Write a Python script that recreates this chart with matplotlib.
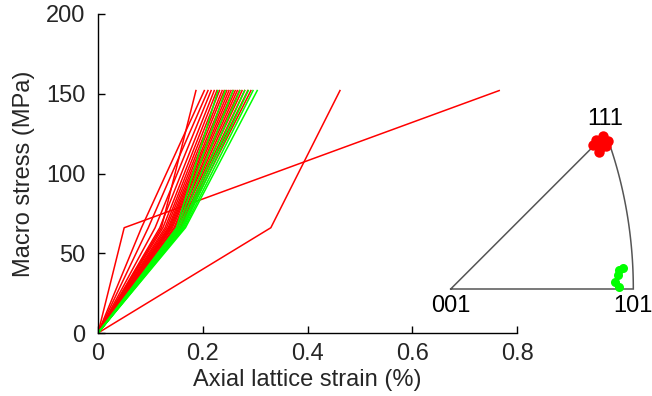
import numpy as np
import matplotlib
matplotlib.use("Agg")
import matplotlib.pyplot as plt

plt.rcParams['font.family'] = ['Liberation Sans', 'DejaVu Sans']

# load steps (MPa) shared by all grains
stress = [0, 66, 152]

# axial lattice strain (%) of each grain at the 2nd and 3rd load step
red_e1 = [0.050, 0.330, 0.121, 0.083, 0.096, 0.109, 0.118, 0.124, 0.128, 0.131,
          0.134, 0.136, 0.138, 0.140, 0.142, 0.145, 0.147, 0.150, 0.152, 0.155,
          0.157, 0.160]
red_e2 = [0.766, 0.462, 0.187, 0.203, 0.210, 0.216, 0.222, 0.227, 0.232, 0.237,
          0.241, 0.246, 0.250, 0.254, 0.258, 0.262, 0.266, 0.270, 0.275, 0.280,
          0.286, 0.292]
green_e1 = [0.150, 0.153, 0.156, 0.159, 0.161, 0.163, 0.165, 0.167]
green_e2 = [0.229, 0.243, 0.258, 0.271, 0.280, 0.287, 0.296, 0.304]

# grain orientations in the inverse pole figure (equal-area projected coords)
red_ipf_x = [0.609, 0.638, 0.659, 0.626, 0.596, 0.651, 0.622, 0.640]
red_ipf_y = [0.624, 0.641, 0.620, 0.591, 0.604, 0.599, 0.574, 0.612]
green_ipf_x = [0.707, 0.722, 0.689, 0.707, 0.700]
green_ipf_y = [0.080, 0.088, 0.031, 0.007, 0.060]

FS = 17

fig = plt.figure(figsize=(6.52, 3.96), dpi=100)
ax = fig.add_axes([98 / 652, 63 / 396, 419 / 652, 319 / 396])

for e1, e2 in zip(red_e1, red_e2):
    ax.plot([0, e1, e2], stress, color='#ff0000', lw=1.1)
for e1, e2 in zip(green_e1, green_e2):
    ax.plot([0, e1, e2], stress, color='#00ff00', lw=1.1)

ax.set_xlim(0, 0.8)
ax.set_ylim(0, 200)
ax.set_xticks([0, 0.2, 0.4, 0.6, 0.8])
ax.set_xticklabels(['0', '0.2', '0.4', '0.6', '0.8'])
ax.set_yticks([0, 50, 100, 150, 200])
for s in ['top', 'right']:
    ax.spines[s].set_visible(False)
for s in ['left', 'bottom']:
    ax.spines[s].set_linewidth(1.0)
ax.tick_params(direction='in', length=5, width=1.0, labelsize=FS,
               labelcolor='#262626')
ax.tick_params(axis='x', pad=7)
ax.tick_params(axis='y', pad=9)
ax.set_xlabel('Axial lattice strain (%)', fontsize=FS, color='#262626', labelpad=3)
ax.set_ylabel('Macro stress (MPa)', fontsize=FS, color='#262626', labelpad=8)
ax.patch.set_alpha(0)

# inverse pole figure inset: equal-area projection of the 001-101-111 triangle
def earea(v):
    v = np.asarray(v, float)
    v = v / np.linalg.norm(v, axis=-1, keepdims=True)
    th = np.arccos(np.clip(v[..., 2], -1, 1))
    r = 2 * np.sin(th / 2)
    phi = np.arctan2(v[..., 1], v[..., 0])
    return r * np.cos(phi), r * np.sin(phi)

scale = 238.6  # px per unit
x0, y0 = 450.7, 289.0
xl, yl = (-0.1, 0.85), (-0.15, 0.8)
w = (xl[1] - xl[0]) * scale
h = (yl[1] - yl[0]) * scale
left = x0 + xl[0] * scale
top = y0 - yl[1] * scale
ins = fig.add_axes([left / 652, 1 - (top + h) / 396, w / 652, h / 396])
ins.set_xlim(*xl)
ins.set_ylim(*yl)
ins.axis('off')

t = np.linspace(0, 1, 100)
arc = np.stack([np.ones_like(t), t, np.ones_like(t)], axis=1)
ax_arc, ay_arc = earea(arc)
p111 = earea([1, 1, 1])
p101 = earea([1, 0, 1])
bx = np.concatenate([[0], [p101[0]], ax_arc, [0]])
by = np.concatenate([[0], [p101[1]], ay_arc, [0]])
ins.plot(bx, by, color='#555555', lw=1.1, solid_joinstyle='miter')

ins.plot(red_ipf_x, red_ipf_y, 'o', color='#ff0000', ms=7.5, mec='none')
ins.plot(green_ipf_x, green_ipf_y, 'o', color='#00ff00', ms=6.5, mec='none')

ins.text(0.0, -0.072, '001', ha='center', va='center', fontsize=FS, color='black')
ins.text(p101[0], -0.072, '101', ha='center', va='center', fontsize=FS, color='black')
ins.text(0.647, 0.712, '111', ha='center', va='center', fontsize=FS, color='black')

fig.savefig('out.png', dpi=100)
